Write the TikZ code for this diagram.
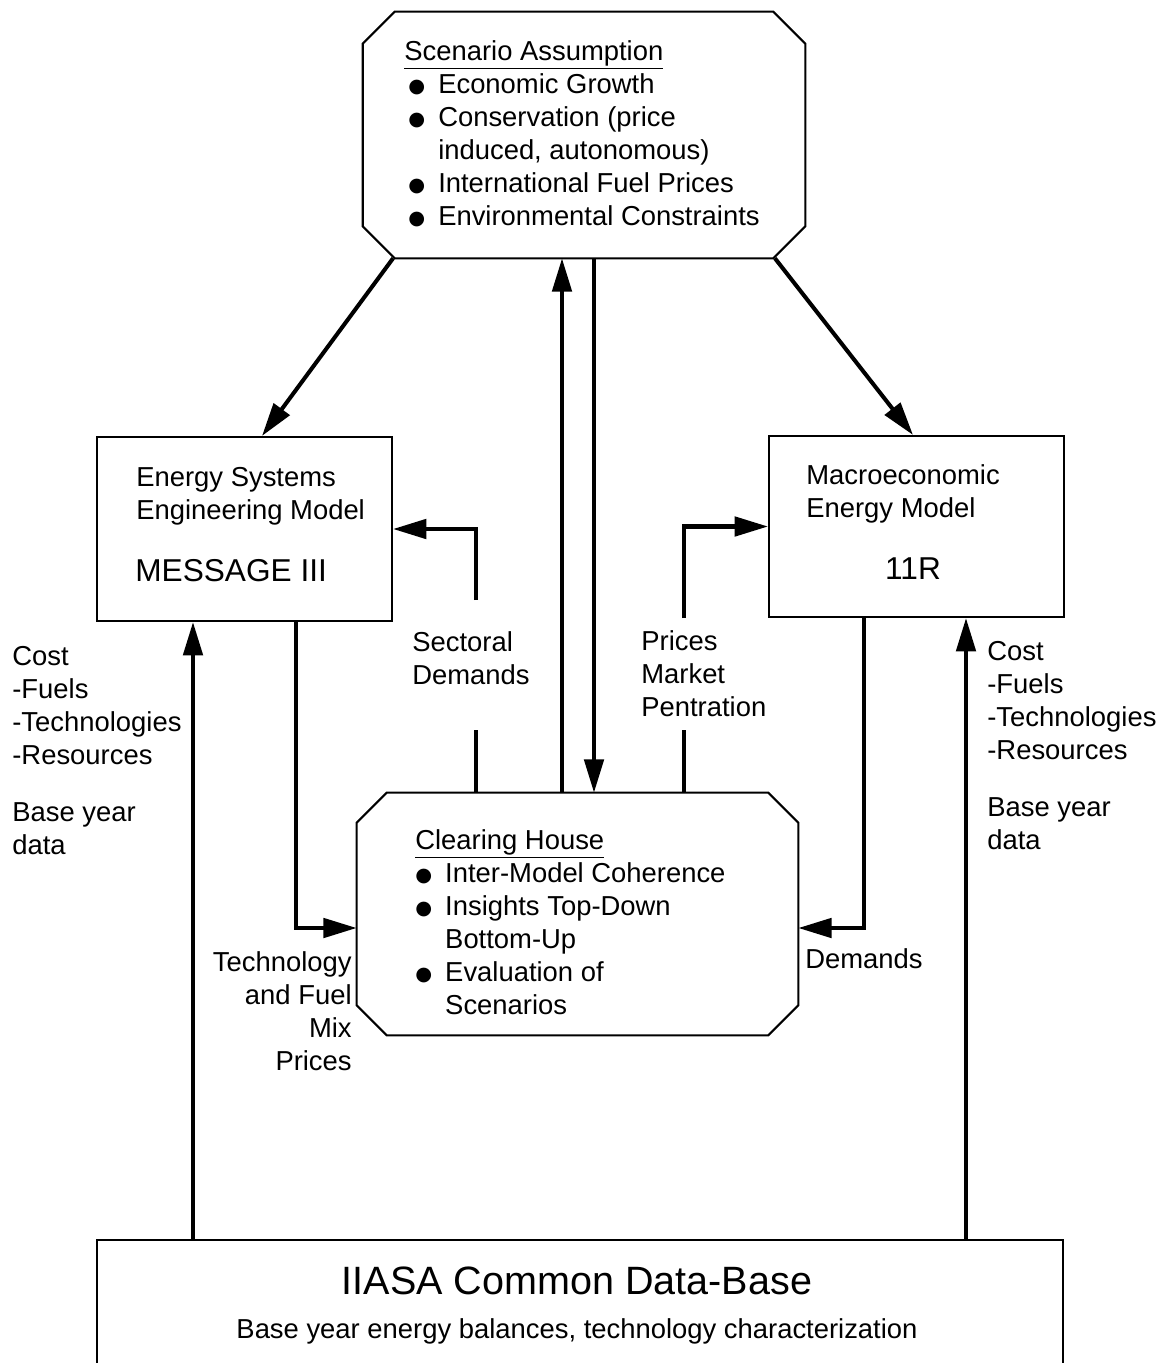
\documentclass[tikz,border=0pt]{standalone}
\usepackage{fontspec}
\setmainfont{Liberation Sans}
\newfontfamily\symfont{DejaVu Sans}
\usetikzlibrary{arrows.meta,positioning}

\newcommand\bodyfont{\fontsize{15.6}{18.8}\selectfont}
\newcommand\bigfont{\fontsize{18}{22}\selectfont}
\newcommand\titlefont{\fontsize{22.5}{27}\selectfont}
\newcommand\itm{\makebox[17pt][l]{\raisebox{0.6pt}{\symfont\fontsize{11}{11}\selectfont ●}}}
\newcommand\cnt{\hspace*{17pt}}
% cut corners of a named box
\newcommand\chamfer[2]{\draw[line width=1.2pt] ([xshift=#2]#1.north west) -- ([xshift=-#2]#1.north east)
  -- ([yshift=-#2]#1.north east) -- ([yshift=#2]#1.south east) -- ([xshift=-#2]#1.south east)
  -- ([xshift=#2]#1.south west) -- ([yshift=#2]#1.south west) -- ([yshift=-#2]#1.north west) -- cycle;}

\tikzset{
  txt/.style={font=\bodyfont, align=left, inner sep=0pt, anchor=north west},
  box/.style={draw, line width=1.2pt, inner sep=0pt},
  octbox/.style={inner sep=0pt},
  wire/.style={line width=2.3pt},
  conn/.style={wire, -{Triangle[length=19pt,width=11pt]}}
}

\begin{document}
\begin{tikzpicture}[x=0.02cm, y=-0.02cm]
    \useasboundingbox (0,0) rectangle (1163,1363);

    % Boxes
    \node[octbox, minimum width=8.84cm, minimum height=4.92cm] (scen) at (584,135) {};
    \chamfer{scen}{0.64cm}
    \node[box, minimum width=5.9cm, minimum height=3.68cm] (esem) at (244.5,529) {};
    \node[box, minimum width=5.9cm, minimum height=3.62cm] (mem) at (916.5,526.5) {};
    \node[octbox, minimum width=8.82cm, minimum height=4.84cm] (clear) at (577.5,914) {};
    \chamfer{clear}{0.6cm}
    \node[box, minimum width=19.32cm, minimum height=2.8cm] (db) at (580,1310) {};

    % Box texts
    \node[txt] (scentxt) at (404,40) {\underline{Scenario Assumption}\\
      \hspace*{2.3pt}\itm Economic Growth\\
      \hspace*{2.3pt}\itm Conservation (price\\
      \hspace*{2.3pt}\cnt induced, autonomous)\\
      \hspace*{2.3pt}\itm International Fuel Prices\\
      \hspace*{2.3pt}\itm Environmental Constraints};
    \node[txt] (esemtxt) at (136,467) {Energy Systems\\Engineering Model};
    \node[txt, font=\bigfont] (message) at (135,559) {MESSAGE III};
    \node[txt] (memtxt) at (806,464) {Macroeconomic\\Energy Model};
    \node[txt, font=\bigfont, anchor=north] (elevenr) at (913,557) {11R};
    \node[txt] (cleartxt) at (415,829) {\underline{Clearing House}\\
      \itm Inter-Model Coherence\\
      \itm Insights Top-Down\\
      \cnt Bottom-Up\\
      \itm Evaluation of\\
      \cnt Scenarios};
    \node[txt, font=\titlefont, anchor=north] (dbtitle) at (577,1267) {IIASA Common Data-Base};
    \node[txt, anchor=north] (dbsub) at (577,1318) {Base year energy balances, technology characterization};

    % Side labels
    \node[txt] (costl) at (12,646) {Cost\\-Fuels\\-Technologies\\-Resources\\[13.7pt]Base year\\data};
    \node[txt] (costr) at (987,641) {Cost\\-Fuels\\-Technologies\\-Resources\\[13.7pt]Base year\\data};
    \node[txt] (secdem) at (412,631) {Sectoral\\Demands};
    \node[txt] (pripen) at (641,630) {Prices\\Market\\Pentration};
    \node[txt, align=right, anchor=north east] (tfmp) at (352,951) {Technology\\and Fuel\\Mix\\Prices};
    \node[txt] (demlbl) at (805,948) {Demands};

    % Connector columns
    \coordinate (cUp) at (562,0);
    \coordinate (cDn) at (594,0);
    \coordinate (secLo) at (476,730);
    \coordinate (secHi) at (476,600);
    \coordinate (priLo) at (684,730);
    \coordinate (priHi) at (684,618);
    \coordinate (tfmIn) at (296,928);
    \coordinate (demIn) at (864,928);
    \coordinate (cDL) at (193,0);
    \coordinate (cDR) at (966,0);

    % Scenario to models
    \draw[conn] ([xshift=-3.82cm]scen.south) -- ([xshift=0.35cm]esem.north);
    \draw[conn] ([xshift=3.82cm]scen.south) -- ([xshift=-0.07cm]mem.north);

    % Scenario <-> clearing house
    \draw[conn] (clear.north -| cUp) -- (scen.south -| cUp);
    \draw[conn] (scen.south -| cDn) -- (clear.north -| cDn);

    % Clearing house to models
    \draw[wire] (clear.north -| secLo) -- (secLo);
    \draw[conn] (secHi) |- (esem.east);
    \draw[wire] (clear.north -| priLo) -- (priLo);
    \draw[conn] (priHi) |- (mem.west);

    % Models to clearing house
    \draw[conn] (esem.south -| tfmIn) |- (clear.west |- tfmIn);
    \draw[conn] (mem.south -| demIn) |- (clear.east |- demIn);

    % Data-base to models
    \draw[conn] (db.north -| cDL) -- (esem.south -| cDL);
    \draw[conn] (db.north -| cDR) -- (mem.south -| cDR);
\end{tikzpicture}
\end{document}
